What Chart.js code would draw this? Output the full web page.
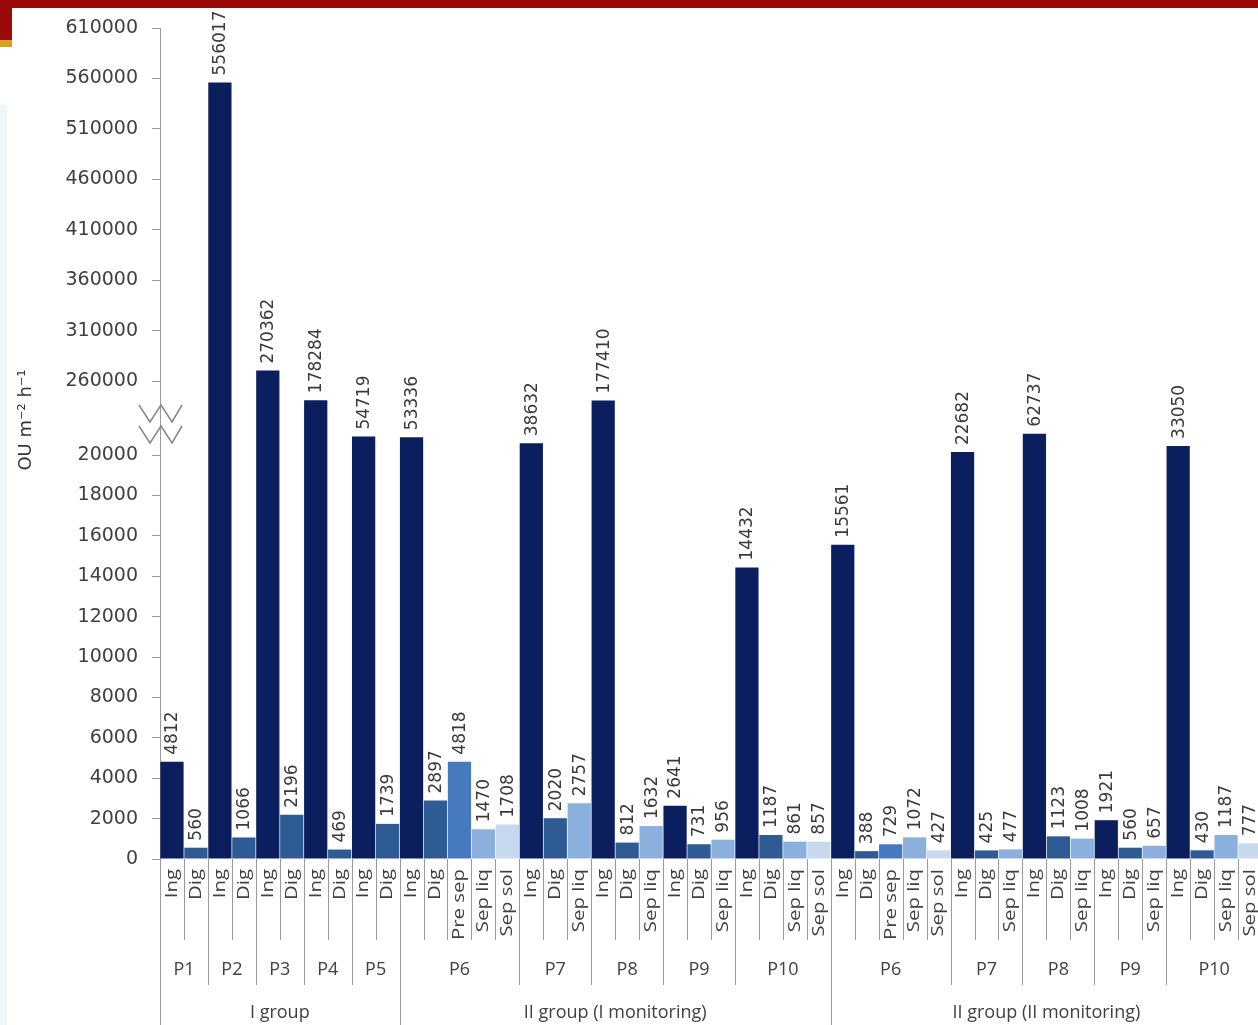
<!DOCTYPE html>
<html>
<head>
<meta charset="utf-8">
<script src="https://cdn.jsdelivr.net/npm/chart.js@4.4.1/dist/chart.umd.min.js"></script>
<style>
  html, body { margin: 0; padding: 0; background: #fff; overflow: hidden; }
  #wrap { position: relative; width: 1258px; height: 1025px; overflow: hidden; }
  #grafico { position: absolute; left: 0; top: 0; }
  .faixa { position: absolute; }
</style>
</head>
<body>
<div id="wrap">
  <div class="faixa" style="left:0;top:0;width:1258px;height:8px;background:#9a0a0a"></div>
  <div class="faixa" style="left:0;top:0;width:12px;height:40px;background:#9a0a0a"></div>
  <div class="faixa" style="left:0;top:40px;width:12px;height:7px;background:#d8a21c"></div>
  <div class="faixa" style="left:0;top:105px;width:7px;height:920px;background:#eef7f7"></div>
  <canvas id="grafico" width="1262" height="1025"></canvas>
</div>
<script>
// ---- dados ----
const grupos = ["I group", "II group (I monitoring)", "II group (II monitoring)"];
const plantas = ["P1", "P2", "P3", "P4", "P5", "P6", "P7", "P8", "P9", "P10", "P6", "P7", "P8", "P9", "P10"];
const grupoDaPlanta = [0, 0, 0, 0, 0, 1, 1, 1, 1, 1, 2, 2, 2, 2, 2];
const etapas = [
  ["Ing", "Dig"], ["Ing", "Dig"], ["Ing", "Dig"], ["Ing", "Dig"], ["Ing", "Dig"],
  ["Ing", "Dig", "Pre sep", "Sep liq", "Sep sol"], ["Ing", "Dig", "Sep liq"], ["Ing", "Dig", "Sep liq"],
  ["Ing", "Dig", "Sep liq"], ["Ing", "Dig", "Sep liq", "Sep sol"],
  ["Ing", "Dig", "Pre sep", "Sep liq", "Sep sol"], ["Ing", "Dig", "Sep liq"], ["Ing", "Dig", "Sep liq"],
  ["Ing", "Dig", "Sep liq"], ["Ing", "Dig", "Sep liq", "Sep sol"]
];
const valores = [
  [4812, 560], [556017, 1066], [270362, 2196], [178284, 469], [54719, 1739],
  [53336, 2897, 4818, 1470, 1708], [38632, 2020, 2757], [177410, 812, 1632],
  [2641, 731, 956], [14432, 1187, 861, 857],
  [15561, 388, 729, 1072, 427], [22682, 425, 477], [62737, 1123, 1008],
  [1921, 560, 657], [33050, 430, 1187, 777]
];
const ticksBaixos = [0, 2000, 4000, 6000, 8000, 10000, 12000, 14000, 16000, 18000, 20000];
const ticksAltos = [260000, 310000, 360000, 410000, 460000, 510000, 560000, 610000];

const cores = {
  "Ing": "#0b1f5f",
  "Dig": "#2f5b94",
  "Pre sep": "#4679bd",
  "Sep liq": "#8cb0de",
  "Sep sol": "#c7d9ef"
};

// ---- eixo com quebra (20000 -> 260000) ----
const U_BAIXO = 404, U_QUEBRA = 74, U_ALTO = 353;
function paraUnidades(v) {
  if (v <= 20000) return v / 20000 * U_BAIXO;
  if (v < 260000) return U_BAIXO + U_QUEBRA * Math.pow((v - 20000) / 240000, 0.72);
  return U_BAIXO + U_QUEBRA + (v - 260000) / 350000 * U_ALTO;
}

// ---- categorias achatadas ----
const rotulos = [];
const dadosBarras = [];
const valoresOriginais = [];
const coresBarras = [];
const plantaDaCategoria = [];
etapas.forEach((lista, p) => {
  lista.forEach((e, k) => {
    rotulos.push(e);
    valoresOriginais.push(valores[p][k]);
    dadosBarras.push(paraUnidades(valores[p][k]));
    coresBarras.push(cores[e]);
    plantaDaCategoria.push(p);
  });
});
const ticksTodos = ticksBaixos.concat(ticksAltos);

const FONTE_NUM = "DejaVu Sans";
const FONTE_CAT = "Open Sans";
const CINZA_TXT = "#404040";
const CINZA_LINHA = "#9a9a9a";

// ---- plugin: rotulos das barras, eixo x multinivel, quebra ----
const pluginExtras = {
  id: "extras",
  afterDatasetsDraw(chart) {
    const ctx = chart.ctx;
    const meta = chart.getDatasetMeta(0);
    ctx.save();
    ctx.fillStyle = "#3a3a3a";
    ctx.font = "17px '" + FONTE_NUM + "'";
    ctx.textAlign = "left";
    ctx.textBaseline = "middle";
    meta.data.forEach((bar, i) => {
      ctx.save();
      ctx.translate(bar.x, bar.y - 7);
      ctx.rotate(-Math.PI / 2);
      ctx.fillText(String(valoresOriginais[i]), 0, 1);
      ctx.restore();
    });
    ctx.restore();
  },
  afterDraw(chart) {
    const ctx = chart.ctx;
    const xs = chart.scales.x;
    const area = chart.chartArea;
    const n = rotulos.length;
    const larg = (area.right - area.left) / n;
    const base = area.bottom;

    ctx.save();
    // linhas divisorias
    ctx.strokeStyle = CINZA_LINHA;
    ctx.lineWidth = 1;
    for (let i = 0; i <= n; i++) {
      const bx = Math.round(area.left + i * larg) + 0.5;
      let fim = 940;
      if (i === 0 || i === n || grupoDaPlanta[plantaDaCategoria[i]] !== grupoDaPlanta[plantaDaCategoria[i - 1]]) fim = 1025;
      else if (plantaDaCategoria[i] !== plantaDaCategoria[i - 1]) fim = 985;
      ctx.beginPath();
      ctx.moveTo(bx, base);
      ctx.lineTo(bx, fim);
      ctx.stroke();
    }

    // rotulos das etapas (texto alongado como no original)
    ctx.fillStyle = CINZA_TXT;
    ctx.font = "17px '" + FONTE_CAT + "'";
    ctx.textAlign = "right";
    ctx.textBaseline = "middle";
    rotulos.forEach((r, i) => {
      const x = xs.getPixelForValue(i);
      ctx.save();
      ctx.translate(x, base + 10);
      ctx.rotate(-Math.PI / 2);
      ctx.scale(1.2, 1);
      ctx.fillText(r, 0, 0);
      ctx.restore();
    });

    // rotulos das plantas
    ctx.textAlign = "center";
    ctx.font = "18px '" + FONTE_CAT + "'";
    plantas.forEach((p, k) => {
      const idx = plantaDaCategoria.map((v, i) => v === k ? i : -1).filter(i => i >= 0);
      const x = (xs.getPixelForValue(idx[0]) + xs.getPixelForValue(idx[idx.length - 1])) / 2;
      ctx.fillText(p, x, 970);
    });

    // rotulos dos grupos
    grupos.forEach((g, k) => {
      const idx = plantaDaCategoria.map((v, i) => grupoDaPlanta[v] === k ? i : -1).filter(i => i >= 0);
      const x = (xs.getPixelForValue(idx[0]) + xs.getPixelForValue(idx[idx.length - 1])) / 2;
      ctx.fillText(g, x, 1013);
    });

    // titulo do eixo y
    ctx.font = "18px '" + FONTE_NUM + "'";
    ctx.fillStyle = "#333";
    ctx.translate(26, 420);
    ctx.rotate(-Math.PI / 2);
    ctx.fillText("OU m\u207B\u00B2 h\u207B\u00B9", 0, 0);
    ctx.restore();

    // simbolo de quebra
    ctx.save();
    ctx.strokeStyle = "#8a8a8a";
    ctx.lineWidth = 1.6;
    [405, 426].forEach((y0) => {
      ctx.beginPath();
      ctx.moveTo(139, y0);
      ctx.lineTo(150, y0 + 17);
      ctx.lineTo(161, y0);
      ctx.lineTo(172, y0 + 17);
      ctx.lineTo(182, y0);
      ctx.stroke();
    });
    ctx.restore();
  }
};

const ctx = document.getElementById("grafico").getContext("2d");
new Chart(ctx, {
  type: "bar",
  data: {
    labels: rotulos,
    datasets: [{
      data: dadosBarras,
      backgroundColor: coresBarras,
      barPercentage: 0.97,
      categoryPercentage: 1
    }]
  },
  options: {
    responsive: false,
    animation: false,
    layout: { padding: { top: 28, bottom: 166, left: 0, right: 0 } },
    plugins: { legend: { display: false }, tooltip: { enabled: false } },
    scales: {
      x: { display: false },
      y: {
        min: 0,
        max: U_BAIXO + U_QUEBRA + U_ALTO,
        afterFit: (s) => { s.width = 160; },
        afterBuildTicks: (s) => { s.ticks = ticksTodos.map((v) => ({ value: paraUnidades(v) })); },
        ticks: {
          callback: (v, i) => String(ticksTodos[i]),
          color: CINZA_TXT,
          font: { family: FONTE_NUM, size: 19 },
          padding: 14,
          autoSkip: false
        },
        grid: { drawOnChartArea: false, drawTicks: true, tickLength: 8, color: CINZA_LINHA },
        border: { display: true, color: CINZA_LINHA }
      }
    }
  },
  plugins: [pluginExtras]
});
</script>
</body>
</html>
